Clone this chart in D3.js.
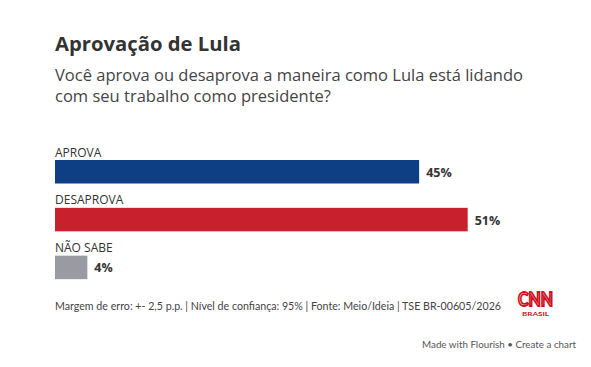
<!DOCTYPE html>
<html>
<head>
<meta charset="utf-8">
<script src="https://cdn.jsdelivr.net/npm/d3@7"></script>
<style>
  body { margin: 0; background: #fff; }
  svg text { font-family: "Open Sans", Lato, sans-serif; }
</style>
</head>
<body>
<svg id="chart" width="591" height="367"></svg>
<script>
const categories = ["APROVA", "DESAPROVA", "NÃO SABE"];
const values = [45, 51, 4];
const barColors = ["#0e3e84", "#c9202e", "#999aa2"];

const svg = d3.select("#chart");
const marginLeft = 55;

// scale a text's font size so it covers the width seen in the reference
function fitWidth(sel, target) {
    const fs = +sel.attr("font-size");
    const w = sel.node().getComputedTextLength();
    sel.attr("font-size", (fs * target / w).toFixed(2));
    return sel;
}

// heading
const title = svg.append("text")
    .attr("x", marginLeft).attr("y", 51)
    .attr("fill", "#333").attr("font-size", 20).attr("font-weight", "bold")
    .text("Aprovação de Lula");
fitWidth(title, 186);

const subLines = ["Você aprova ou desaprova a maneira como Lula está lidando", "com seu trabalho como presidente?"];
const sub = svg.append("g");
sub.selectAll("text").data(subLines).join("text")
    .attr("x", marginLeft).attr("y", (d, i) => 81 + i * 20.7)
    .attr("fill", "#444").attr("font-size", 16)
    .text(d => d);
{
    const w = sub.select("text").node().getComputedTextLength();
    sub.selectAll("text").attr("font-size", (16 * 468 / w).toFixed(2));
}

// bars
const x = d3.scaleLinear().domain([0, 51]).range([0, 412.7]);
const y = d3.scaleBand().domain(categories).range([141, 284.5]).paddingInner(0);
const barH = 23.5;

const rows = svg.append("g").selectAll("g").data(categories).join("g")
    .attr("transform", d => `translate(${marginLeft},${y(d)})`);

rows.append("text")
    .attr("x", 0).attr("y", 15.5)
    .attr("fill", "#333").attr("font-size", 12)
    .text(d => d);

rows.append("rect")
    .attr("x", x(0)).attr("y", 19)
    .attr("width", (d, i) => x(values[i]))
    .attr("height", barH)
    .attr("fill", (d, i) => barColors[i]);

rows.append("text")
    .attr("x", (d, i) => x(values[i]) + 7)
    .attr("y", 19 + barH / 2 + 5)
    .attr("fill", "#333").attr("font-size", 12.5).attr("font-weight", "bold")
    .text((d, i) => values[i] + "%");

// footer
const foot = svg.append("text")
    .attr("x", marginLeft).attr("y", 310)
    .attr("fill", "#444").attr("font-size", 11)
    .style("font-family", "Lato, sans-serif")
    .text("Margem de erro: +- 2,5 p.p. | Nível de confiança: 95% | Fonte: Meio/Ideia | TSE BR-00605/2026");
fitWidth(foot, 446);

// logo
svg.append("text")
    .attr("x", 518).attr("y", 306)
    .attr("fill", "#fff").attr("stroke", "#d0101d").attr("stroke-width", 1.8)
    .attr("font-size", 18).attr("font-weight", "bold")
    .attr("textLength", 35).attr("lengthAdjust", "spacingAndGlyphs")
    .style("font-family", "Lato, sans-serif")
    .text("CNN");
svg.append("text")
    .attr("x", 522).attr("y", 316)
    .attr("fill", "#d0101d").attr("font-size", 6).attr("font-weight", "bold")
    .attr("textLength", 27).attr("lengthAdjust", "spacingAndGlyphs")
    .style("font-family", "Lato, sans-serif")
    .text("BRASIL");

const made = svg.append("text")
    .attr("x", 576).attr("y", 348)
    .attr("text-anchor", "end")
    .attr("fill", "#555").attr("font-size", 10)
    .style("font-family", "Lato, sans-serif")
    .text("Made with Flourish • Create a chart");
fitWidth(made, 154);
</script>
</body>
</html>
